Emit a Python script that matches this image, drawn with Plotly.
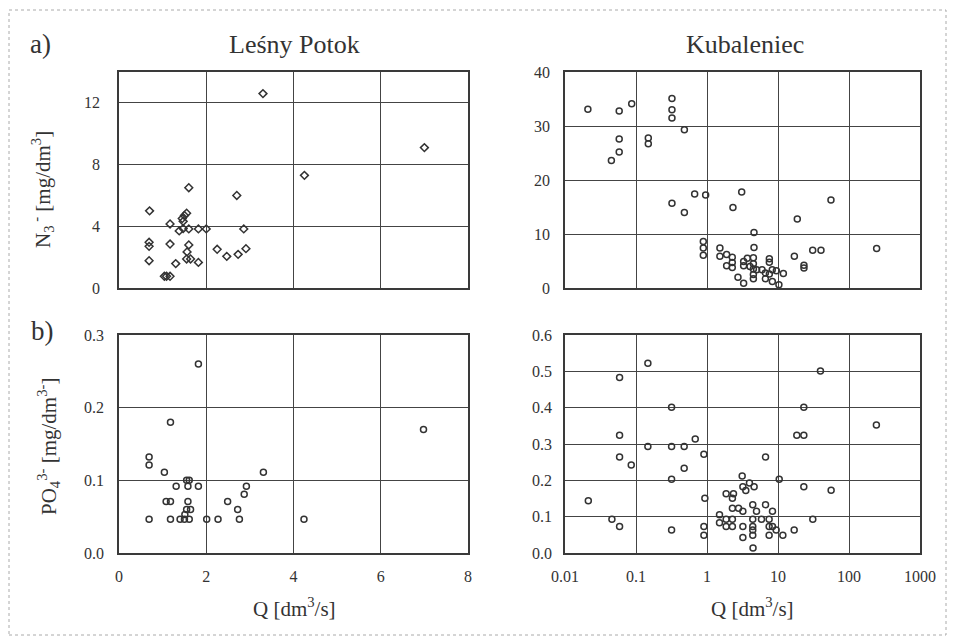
import plotly.graph_objects as go

# ---- Data: Leśny Potok, NO3 ----
lp_q_no3 = [3.3, 7.0, 4.25, 1.6, 2.7, 0.7, 1.55, 1.5, 1.45, 1.47, 1.17, 1.38, 1.47, 1.6, 1.82, 2.0, 2.86,
            0.69, 0.69, 1.17, 1.6, 1.56, 1.55, 1.64, 1.82, 1.3, 0.69, 2.25, 2.47, 2.73, 2.91, 1.04, 1.09, 1.17]
lp_no3 = [12.6, 9.1, 7.3, 6.5, 6.0, 5.0, 4.85, 4.7, 4.5, 4.32, 4.15, 3.7, 3.85, 3.83, 3.83, 3.83, 3.83,
          2.96, 2.7, 2.85, 2.79, 2.34, 1.88, 1.88, 1.66, 1.58, 1.77, 2.51, 2.05, 2.18, 2.55, 0.76, 0.76, 0.76]

# ---- Data: Kubaleniec, NO3 ----
kb_q_no3 = [0.021, 0.058, 0.087, 0.058, 0.058, 0.045, 0.149, 0.149, 0.321, 0.321, 0.321, 0.48, 0.321, 0.48,
            0.67, 0.957, 0.887, 0.887, 0.887, 1.52, 1.52, 1.89, 2.27, 1.89, 2.27, 2.27, 2.32, 3.08, 2.73,
            3.28, 3.28, 3.28, 3.7, 4.03, 4.59, 4.59, 4.5, 4.5, 4.5, 4.5, 4.5, 5.0, 5.96, 6.64, 6.64, 7.55,
            7.55, 7.55, 8.32, 8.3, 9.48, 10.3, 11.9, 17.0, 18.7, 23.2, 23.2, 30.8, 40.3, 55.7, 245]
kb_no3 = [33.1, 32.8, 34.1, 27.6, 25.2, 23.6, 27.8, 26.7, 35.1, 33.0, 31.5, 29.3, 15.7, 14.0,
          17.4, 17.2, 8.6, 7.4, 6.05, 7.4, 5.9, 6.2, 5.7, 4.1, 4.7, 3.8, 14.9, 17.8, 2.0,
          0.9, 4.9, 4.1, 5.5, 4.0, 10.3, 7.5, 5.6, 4.5, 3.5, 2.5, 1.7, 3.4, 3.4, 2.8, 1.7, 5.4,
          4.75, 2.6, 1.2, 3.4, 3.2, 0.6, 2.7, 5.9, 12.8, 4.2, 3.7, 7.0, 7.0, 16.3, 7.3]

# ---- Data: Leśny Potok, PO4 ----
lp_q_po4 = [1.82, 1.18, 0.69, 0.69, 1.04, 3.31, 6.98, 1.55, 1.61, 1.31, 1.58, 1.82, 2.92, 2.87, 1.08,
            1.18, 1.58, 2.49, 1.55, 1.64, 2.72, 1.51, 0.69, 1.18, 1.40, 1.50, 1.61, 2.01, 2.27, 2.76, 4.24]
lp_po4 = [0.26, 0.18, 0.132, 0.121, 0.111, 0.111, 0.17, 0.10, 0.10, 0.092, 0.092, 0.092, 0.092, 0.081,
          0.071, 0.071, 0.071, 0.071, 0.06, 0.06, 0.06, 0.053, 0.0465, 0.0465, 0.0465, 0.0465, 0.0465,
          0.0465, 0.0465, 0.0465, 0.0465]

# ---- Data: Kubaleniec, PO4 ----
kb_q_po4 = [0.147, 0.0587, 39.6, 0.317, 23.1, 243, 0.0587, 18.4, 23.1, 0.147, 0.317, 0.477, 0.683, 0.904,
            0.0587, 6.67, 0.0857, 0.477, 0.317, 10.4, 3.13, 3.96, 3.2, 4.61, 3.52, 23.1, 56, 0.0213, 0.933,
            1.86, 2.36, 2.28, 4.41, 6.67, 2.28, 2.78, 3.2, 4.98, 8.36, 1.5, 0.0458, 1.86, 2.28, 4.41, 5.85,
            7.5, 30.9, 1.5, 1.86, 2.28, 3.2, 4.41, 7.5, 8.36, 0.0587, 0.904, 9.42, 4.41, 0.317, 16.9,
            0.904, 4.41, 7.5, 11.7, 3.2, 4.45]
kb_po4 = [0.522, 0.483, 0.501, 0.401, 0.401, 0.352, 0.324, 0.324, 0.324, 0.293, 0.293, 0.293, 0.314, 0.272,
          0.264, 0.264, 0.242, 0.233, 0.203, 0.203, 0.212, 0.193, 0.182, 0.182, 0.172, 0.182, 0.173, 0.144,
          0.151, 0.163, 0.163, 0.151, 0.133, 0.133, 0.123, 0.123, 0.115, 0.115, 0.115, 0.105, 0.093, 0.093,
          0.093, 0.093, 0.093, 0.093, 0.093, 0.083, 0.073, 0.073, 0.073, 0.073, 0.073, 0.073, 0.073, 0.073,
          0.063, 0.063, 0.063, 0.063, 0.049, 0.049, 0.049, 0.049, 0.043, 0.014]

log_tick_vals = [0.01, 0.1, 1, 10, 100, 1000]
log_tick_text = ["0.01", "0.1", "1", "10", "100", "1000"]

FONT = "Liberation Serif"
INK = "#333333"
W, H = 954, 643

fig = go.Figure()
mk_d = dict(symbol="diamond-open", size=6, color=INK, line=dict(width=1.5, color=INK))
mk_c = dict(symbol="circle-open", size=6, color=INK, line=dict(width=1.5, color=INK))

fig.add_trace(go.Scatter(x=lp_q_no3, y=lp_no3, mode="markers", marker=mk_d, xaxis="x", yaxis="y"))
fig.add_trace(go.Scatter(x=kb_q_no3, y=kb_no3, mode="markers", marker=mk_c, xaxis="x2", yaxis="y2"))
fig.add_trace(go.Scatter(x=lp_q_po4, y=lp_po4, mode="markers", marker=mk_c, xaxis="x3", yaxis="y3"))
fig.add_trace(go.Scatter(x=kb_q_po4, y=kb_po4, mode="markers", marker=mk_c, xaxis="x4", yaxis="y4"))

def px_x(p):
    return p / W

def px_y(p):
    return 1 - p / H

dom_xl = [px_x(119), px_x(468)]
dom_xr = [px_x(565), px_x(920)]
dom_yt = [px_y(288), px_y(72)]
dom_yb = [px_y(553), px_y(335)]

common = dict(showline=True, linecolor="#3a3a3a", linewidth=1.5, mirror=True, automargin=False,
              showgrid=True, gridcolor="#444444", gridwidth=1.2, zeroline=False,
              ticks="", tickfont=dict(family=FONT, size=16, color=INK))

fig.update_layout(
    template="none",
    width=W, height=H, margin=dict(l=0, r=0, t=0, b=0, pad=0), autosize=False,
    paper_bgcolor="white", plot_bgcolor="white", showlegend=False,
    font=dict(family=FONT, color=INK),
    xaxis=dict(domain=dom_xl, anchor="y", range=[0, 8], dtick=2, showticklabels=False, **common),
    yaxis=dict(domain=dom_yt, anchor="x", range=[0, 14], tickvals=[0, 4, 8, 12], ticklabelstandoff=14, **common),
    xaxis2=dict(domain=dom_xr, anchor="y2", type="log", range=[-2, 3], tickvals=log_tick_vals,
                showticklabels=False, **common),
    yaxis2=dict(domain=dom_yt, anchor="x2", range=[0, 40], tickvals=[0, 10, 20, 30, 40], ticklabelstandoff=10, **common),
    xaxis3=dict(domain=dom_xl, anchor="y3", range=[0, 8], dtick=2, ticklabelstandoff=8, **common),
    yaxis3=dict(domain=dom_yb, anchor="x3", range=[0, 0.3], tickvals=[0, 0.1, 0.2, 0.3], tickformat=".1f",
                ticklabelstandoff=10, **common),
    xaxis4=dict(domain=dom_xr, anchor="y4", type="log", range=[-2, 3], tickvals=log_tick_vals,
                ticktext=log_tick_text, ticklabelstandoff=8, **common),
    yaxis4=dict(domain=dom_yb, anchor="x4", range=[0, 0.6], tickvals=[0, 0.1, 0.2, 0.3, 0.4, 0.5, 0.6],
                tickformat=".1f", ticklabelstandoff=8, **common),
)

def ann(text, x, y, size, angle=0):
    fig.add_annotation(text=text, x=px_x(x), y=px_y(y), xref="paper", yref="paper",
                       showarrow=False, textangle=angle, xanchor="center", yanchor="middle",
                       font=dict(family=FONT, size=size, color=INK))

ann("Leśny Potok", 294, 44, 26)
ann("Kubaleniec", 745, 44, 26)
ann("a)", 40, 44, 27)
ann("b)", 42, 331, 27)
ann("N<sub>3</sub><sup> -</sup> [mg/dm<sup>3</sup>]", 43, 190, 21, -90)
ann("PO<sub>4</sub><sup>3-</sup> [mg/dm<sup>3-</sup>]", 48, 447, 21, -90)
ann("Q [dm<sup>3</sup>/s]", 294, 607, 21)
ann("Q [dm<sup>3</sup>/s]", 752, 607, 21)

fig.add_shape(type="rect", xref="paper", yref="paper",
              x0=px_x(9), x1=px_x(946), y0=px_y(635), y1=px_y(10),
              line=dict(color="#aaaaaa", width=1, dash="dot"), layer="below")

fig.write_html("out.html", config={"displayModeBar": False},
               post_script="document.body.style.margin='0';document.body.style.overflow='hidden';")
